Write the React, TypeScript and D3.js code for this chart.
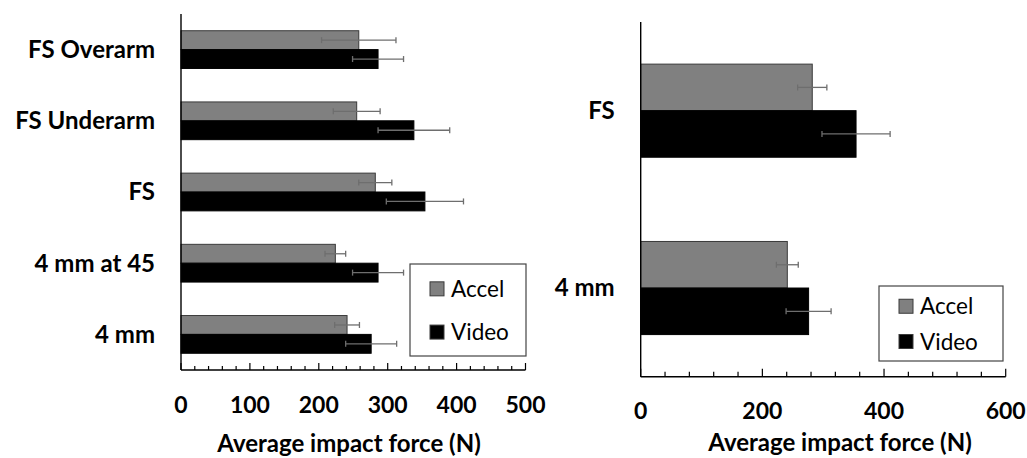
import * as d3 from "d3";

// left panel: all five throw conditions, top to bottom
const leftCategories = ["FS Overarm", "FS Underarm", "FS", "4 mm at 45", "4 mm"];
const leftAccel = [258, 255, 282, 224, 241];
const leftAccelErr = [54, 34, 24, 15, 18];
const leftVideo = [286, 338, 354, 286, 276];
const leftVideoErr = [37, 52, 56, 37, 37];
const leftTicks = [0, 100, 200, 300, 400, 500];

// right panel: the two comparable conditions
const rightCategories = ["FS", "4 mm"];
const rightAccel = [282, 241];
const rightAccelErr = [24, 18];
const rightVideo = [354, 276];
const rightVideoErr = [56, 37];
const rightTicks = [0, 200, 400, 600];

const seriesNames = ["Accel", "Video"];
const seriesFill = ["#808080", "#000000"];

const FONT = "Lato, 'Open Sans', sans-serif";

type PanelProps = {
  categories: string[];
  accel: number[];
  accelErr: number[];
  video: number[];
  videoErr: number[];
  ticks: number[];
  minorStep: number;
  x0: number;
  x1: number;
  yTop: number;
  yBottom: number;
  groupFrac: number;
  majorLen: number;
  minorLen: number;
  tickLabelY: number;
  titleX: number;
  titleY: number;
  legend: { x: number; y: number; w: number; h: number };
};

function Panel(p: PanelProps) {
  const max = p.ticks[p.ticks.length - 1];
  const x = d3.scaleLinear().domain([0, max]).range([p.x0, p.x1]);
  const y = d3.scaleBand<string>().domain(p.categories).range([p.yTop, p.yBottom]).padding(0);
  const group = y.step() * p.groupFrac;

  const rows = p.categories.map((c, i) => ({
    cat: c,
    vals: [
      { s: 0, v: p.accel[i], e: p.accelErr[i] },
      { s: 1, v: p.video[i], e: p.videoErr[i] },
    ],
  }));

  const minor = d3.range(0, max + 0.001, p.minorStep);
  const isMajor = (t: number) => p.ticks.includes(t);

  return (
    <g>
      {rows.map((r) => {
        const c = (y(r.cat) ?? 0) + y.bandwidth() / 2;
        const inner = d3
          .scaleBand<number>()
          .domain([0, 1])
          .range([c - group / 2, c + group / 2]);
        return (
          <g key={r.cat}>
            {r.vals.map((d) => (
              <rect
                key={d.s}
                x={x(0)}
                y={inner(d.s)}
                width={x(d.v) - x(0)}
                height={inner.bandwidth()}
                fill={seriesFill[d.s]}
                stroke={d.s === 0 ? "#3a3a3a" : "#000"}
                strokeWidth={1}
              />
            ))}
            {r.vals.map((d) => {
              const cy = (inner(d.s) ?? 0) + inner.bandwidth() / 2;
              const a = x(d.v - d.e);
              const b = x(d.v + d.e);
              return (
                <g key={"e" + d.s} stroke="#6e6e6e" strokeWidth={1.3}>
                  <line x1={a} x2={b} y1={cy} y2={cy} />
                  <line x1={a} x2={a} y1={cy - 3} y2={cy + 3} />
                  <line x1={b} x2={b} y1={cy - 3} y2={cy + 3} />
                </g>
              );
            })}
            <text
              x={p.x0 - 26}
              y={c}
              dy="0.35em"
              textAnchor="end"
              fontFamily={FONT}
              fontWeight="bold"
              fontSize={24}
              fill="#000"
            >
              {r.cat}
            </text>
          </g>
        );
      })}

      {/* axes */}
      <line x1={p.x0} x2={p.x0} y1={p.yTop} y2={p.yBottom} stroke="#000" strokeWidth={1.4} />
      <line x1={p.x0} x2={p.x1} y1={p.yBottom} y2={p.yBottom} stroke="#000" strokeWidth={1.4} />
      {minor.map((t) => (
        <line
          key={t}
          x1={x(t)}
          x2={x(t)}
          y1={p.yBottom}
          y2={p.yBottom - (isMajor(t) ? p.majorLen : p.minorLen)}
          stroke="#000"
          strokeWidth={1.2}
        />
      ))}
      {p.ticks.map((t) => (
        <text
          key={"l" + t}
          x={x(t)}
          y={p.tickLabelY}
          textAnchor="middle"
          fontFamily={FONT}
          fontWeight="bold"
          fontSize={23}
        >
          {t}
        </text>
      ))}
      <text
        x={p.titleX}
        y={p.titleY}
        textAnchor="middle"
        fontFamily={FONT}
        fontWeight="bold"
        fontSize={24}
      >
        Average impact force (N)
      </text>

      {/* legend */}
      <rect
        x={p.legend.x}
        y={p.legend.y}
        width={p.legend.w}
        height={p.legend.h}
        fill="#fff"
        stroke="#444"
        strokeWidth={1.2}
      />
      {seriesNames.map((s, i) => {
        const cy = p.legend.y + p.legend.h * (i === 0 ? 0.27 : 0.74);
        return (
          <g key={s}>
            <rect
              x={p.legend.x + 20}
              y={cy - 7}
              width={14}
              height={14}
              fill={seriesFill[i]}
              stroke="#3a3a3a"
              strokeWidth={1}
            />
            <text x={p.legend.x + 41} y={cy} dy="0.36em" fontFamily={FONT} fontSize={22.5}>
              {s}
            </text>
          </g>
        );
      })}
    </g>
  );
}

export default function App() {
  return (
    <svg
      width={1027}
      height={458}
      style={{ position: "absolute", left: 0, top: 0, background: "#fff" }}
    >
      <Panel
        categories={leftCategories}
        accel={leftAccel}
        accelErr={leftAccelErr}
        video={leftVideo}
        videoErr={leftVideoErr}
        ticks={leftTicks}
        minorStep={20}
        x0={181}
        x1={525.5}
        yTop={14}
        yBottom={370}
        groupFrac={0.53}
        majorLen={7}
        minorLen={4}
        tickLabelY={413}
        titleX={349}
        titleY={452}
        legend={{ x: 410, y: 264, w: 116, h: 92 }}
      />
      <Panel
        categories={rightCategories}
        accel={rightAccel}
        accelErr={rightAccelErr}
        video={rightVideo}
        videoErr={rightVideoErr}
        ticks={rightTicks}
        minorStep={40}
        x0={640.7}
        x1={1005.7}
        yTop={22}
        yBottom={376.7}
        groupFrac={0.525}
        majorLen={8}
        minorLen={5}
        tickLabelY={419}
        titleX={840}
        titleY={451}
        legend={{ x: 879, y: 286, w: 124, h: 75 }}
      />
    </svg>
  );
}
